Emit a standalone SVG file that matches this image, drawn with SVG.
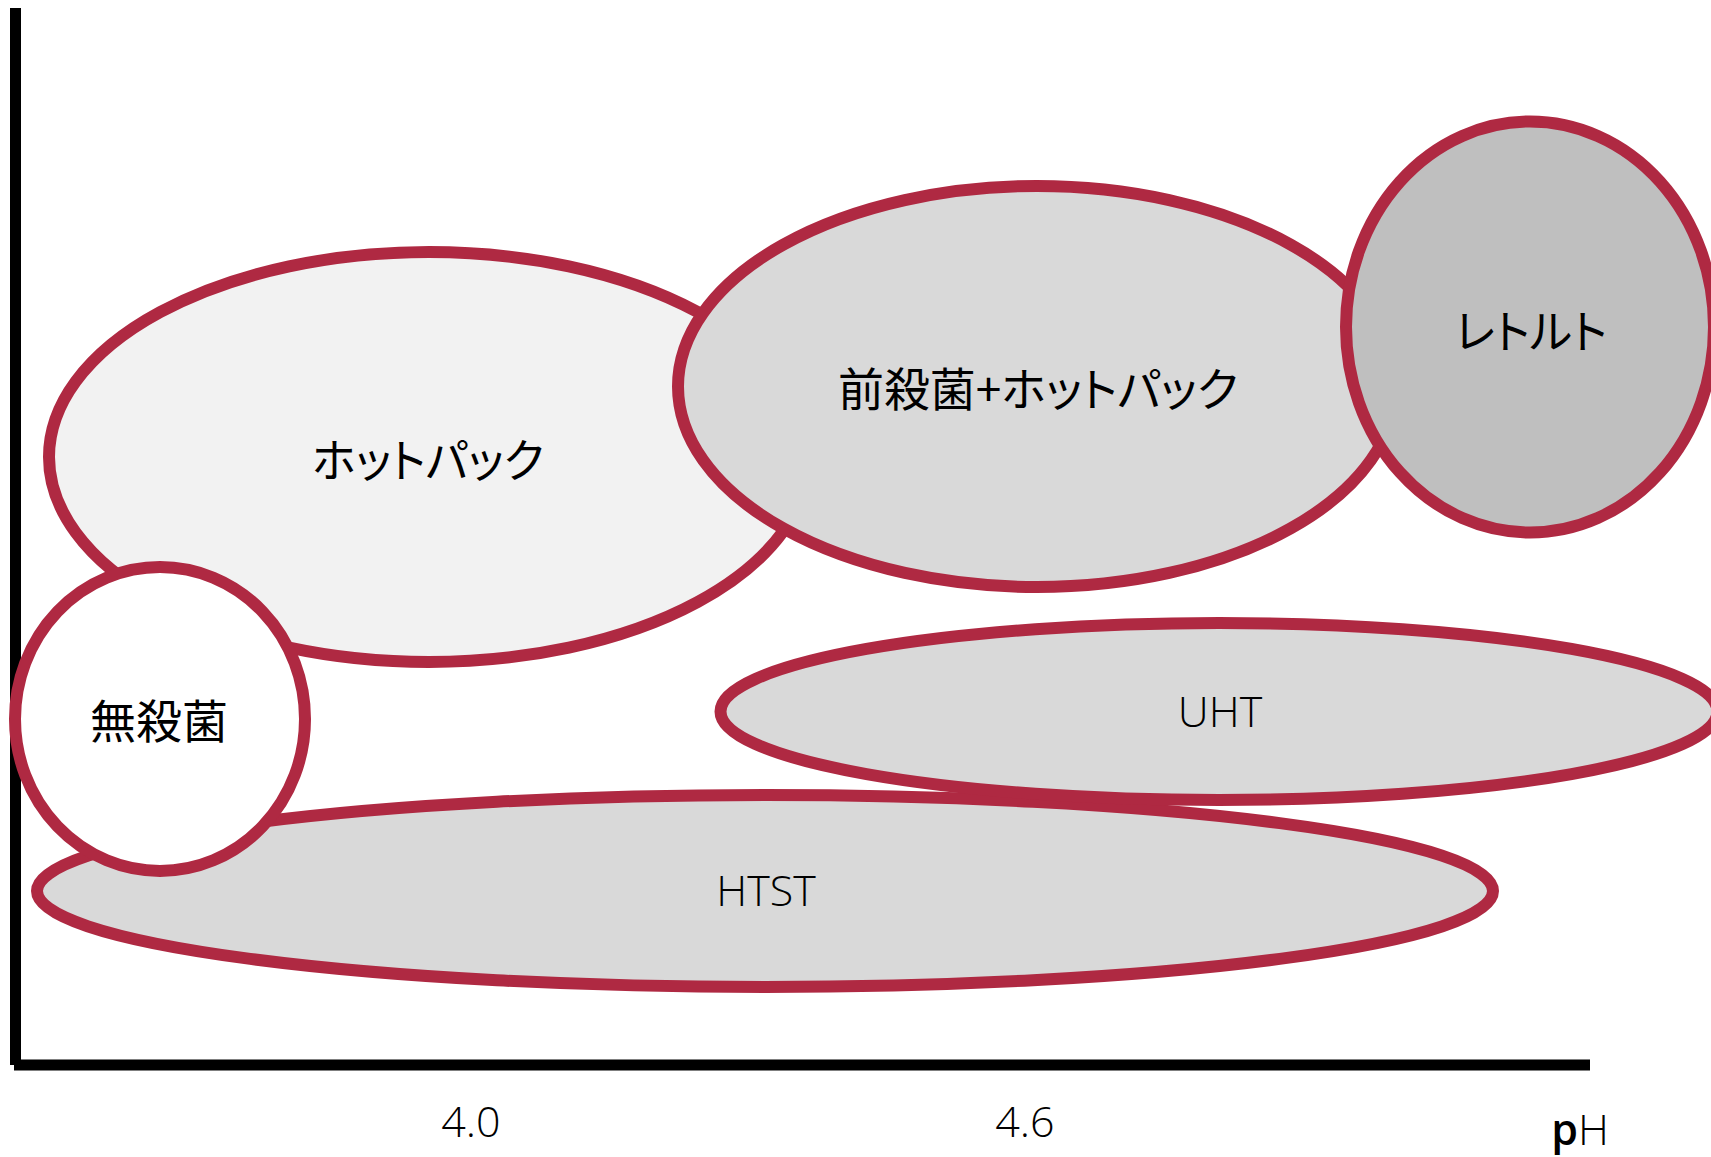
<svg xmlns="http://www.w3.org/2000/svg" width="1711" height="1157" viewBox="0 0 1711 1157">
  <style>
    .region { stroke: #AF2942; stroke-width: 12; }
    .jp { font-family: "Noto Sans CJK JP", "Noto Sans", sans-serif; font-size: 46px; fill: #000; text-anchor: middle; dominant-baseline: central; font-feature-settings: "palt"; }
    .lat { font-family: "Open Sans", "Liberation Sans", sans-serif; font-weight: 300; font-size: 43px; fill: #000; text-anchor: middle; }
    .axis { stroke: #000; stroke-width: 11; fill: none; }
  </style>
  <rect width="1711" height="1157" fill="#FFFFFF"/>
  <g id="axes">
    <line class="axis" x1="15.5" y1="8" x2="15.5" y2="1065"/>
    <line class="axis" x1="14" y1="1065" x2="1590" y2="1065"/>
    <text class="lat" x="471" y="1137">4.0</text>
    <text class="lat" x="1025" y="1137">4.6</text>
    <text class="lat" x="1580" y="1145" font-size="41"><tspan font-weight="600">p</tspan>H</text>
  </g>
  <g id="hotpack">
    <ellipse class="region" cx="429" cy="457" rx="380" ry="205" fill="#F2F2F2"/>
    <text class="jp" x="428" y="457" textLength="232" lengthAdjust="spacingAndGlyphs">ホットパック</text>
  </g>
  <g id="presterilize-hotpack">
    <ellipse class="region" cx="1037" cy="386.5" rx="359" ry="200.5" fill="#D9D9D9"/>
    <text class="jp" x="1038" y="386" textLength="400" lengthAdjust="spacingAndGlyphs">前殺菌+ホットパック</text>
  </g>
  <g id="retort">
    <ellipse class="region" cx="1530" cy="327" rx="184" ry="205.5" fill="#BFBFBF"/>
    <text class="jp" x="1531" y="328" textLength="152" lengthAdjust="spacingAndGlyphs">レトルト</text>
  </g>
  <g id="htst">
    <ellipse class="region" cx="765" cy="891" rx="728" ry="96" fill="#D9D9D9"/>
    <text class="lat" x="766" y="906">HTST</text>
  </g>
  <g id="uht">
    <ellipse class="region" cx="1219" cy="711.5" rx="498.5" ry="88.5" fill="#D9D9D9"/>
    <text class="lat" x="1220" y="727">UHT</text>
  </g>
  <g id="no-sterilize">
    <ellipse class="region" cx="160" cy="719" rx="145" ry="152" fill="#FFFFFF"/>
    <text class="jp" x="159" y="718" textLength="138" lengthAdjust="spacingAndGlyphs">無殺菌</text>
  </g>
  <g id="connectors"></g>
</svg>
